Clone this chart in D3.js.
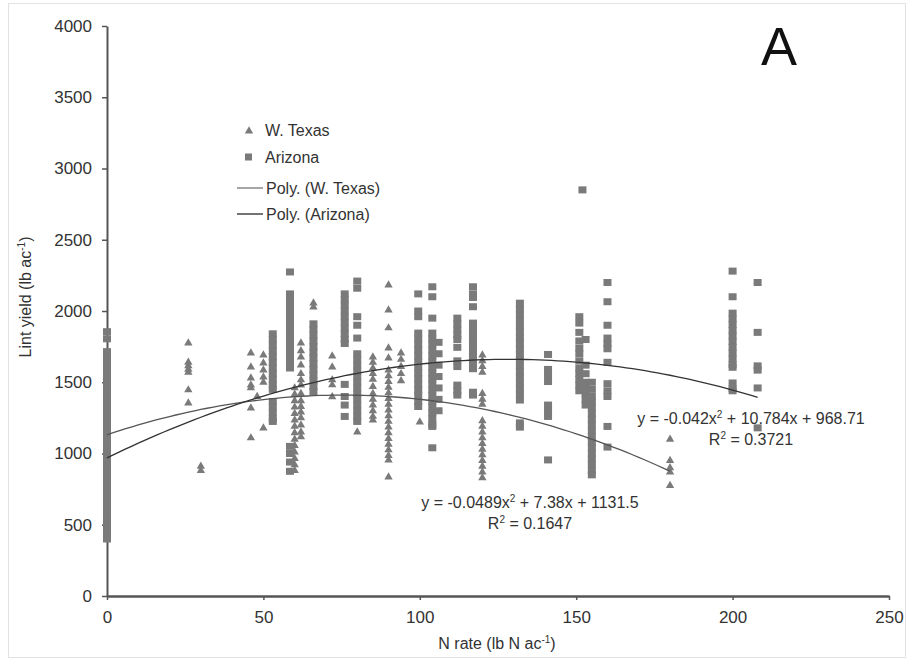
<!DOCTYPE html>
<html>
<head>
<meta charset="utf-8">
<script src="https://cdn.jsdelivr.net/npm/d3@7"></script>
<style>
body { margin: 0; background: #fff; }
svg text { font-family: "Liberation Sans", Arial, sans-serif; fill: #333; }
</style>
</head>
<body>
<svg id="chart" width="908" height="660"></svg>
<script>
// W. Texas observations (triangles): [N rate, [lint yields]]
var texas = [
	[26, [1775, 1640, 1615, 1590, 1570, 1446, 1354]],
	[30, [910, 880]],
	[46, [1705, 1607, 1530, 1480, 1460, 1319, 1109]],
	[48, [1400]],
	[50, [1691, 1635, 1586, 1537, 1500, 1179]],
	[60, [1460, 1415, 1370, 1325, 1280, 1235, 1190, 1145, 1100, 1055, 1010, 965, 920, 880]],
	[62, [1775, 1720, 1677, 1620, 1560, 1516, 1480, 1420, 1370, 1330, 1290, 1250, 1200, 1150, 1116]],
	[66, [2056, 2028]],
	[72, [1684, 1607, 1516, 1481, 1397]],
	[80, [1151]],
	[85, [1677, 1640, 1600, 1560, 1520, 1470, 1420, 1380, 1340, 1300, 1260, 1235]],
	[90, [2182, 2007, 1881, 1740, 1670, 1586, 1545, 1505, 1465, 1425, 1385, 1345, 1305, 1265, 1225, 1185, 1145, 1105, 1065, 1025, 985, 954, 835]],
	[94, [1705, 1660, 1610, 1560, 1510]],
	[100, [1221]],
	[120, [1690, 1650, 1610, 1570, 1420, 1380, 1345, 1230, 1190, 1150, 1110, 1070, 1030, 990, 950, 910, 870, 830]],
	[180, [1100, 950, 900, 870, 775]]
];

// Arizona observations (squares): [N rate, [lint yields]]
var arizona = [
	[0, [1855, 1805, 1715, 1675, 1635, 1595, 1555, 1515, 1475, 1435, 1395, 1355, 1315, 1275, 1235, 1195, 1155, 1115, 1075, 1035, 995, 955, 915, 875, 835, 795, 755, 715, 675, 635, 595, 555, 515, 475, 435, 400]],
	[53, [1840, 1800, 1760, 1720, 1680, 1640, 1600, 1560, 1520, 1480, 1450, 1365, 1325, 1285, 1245, 1225]],
	[58.5, [2274, 2120, 2080, 2040, 2000, 1960, 1920, 1880, 1840, 1800, 1760, 1720, 1680, 1640, 1600, 1050, 1000, 940, 875]],
	[66, [1910, 1870, 1830, 1790, 1750, 1710, 1670, 1630, 1590, 1550, 1510, 1470, 1435]],
	[76, [2120, 2080, 2040, 2000, 1960, 1920, 1880, 1840, 1800, 1772, 1485, 1400, 1340, 1260]],
	[80, [2210, 2160, 1960, 1900, 1810, 1700, 1660, 1620, 1580, 1540, 1500, 1460, 1420, 1380, 1340, 1300, 1260, 1225]],
	[99.5, [2120, 2000, 1960, 1845, 1805, 1765, 1725, 1685, 1645, 1605, 1565, 1525, 1485, 1445, 1405, 1365, 1330]],
	[104, [2170, 2100, 1950, 1845, 1805, 1765, 1725, 1685, 1645, 1605, 1565, 1525, 1485, 1445, 1405, 1365, 1325, 1285, 1245, 1205, 1190, 1040]],
	[106, [1780, 1700, 1620, 1540, 1460, 1380, 1300]],
	[112, [1950, 1910, 1870, 1830, 1800, 1745, 1650, 1610, 1480, 1440, 1410]],
	[117, [2170, 2120, 2095, 2030, 1915, 1875, 1835, 1795, 1755, 1715, 1675, 1635, 1595, 1430, 1410]],
	[132, [2055, 2015, 1975, 1935, 1895, 1855, 1815, 1775, 1735, 1695, 1655, 1615, 1575, 1535, 1495, 1455, 1415, 1375, 1215, 1185]],
	[141, [1695, 1590, 1550, 1505, 1340, 1300, 1260, 955]],
	[151, [1960, 1915, 1850, 1790, 1740, 1700, 1650, 1600, 1560, 1520, 1480, 1440]],
	[152, [2850]],
	[153, [1800, 1620, 1560, 1500, 1460, 1420, 1380, 1340]],
	[155, [1500, 1450, 1400, 1360, 1320, 1280, 1240, 1200, 1160, 1120, 1080, 1040, 1000, 960, 920, 880, 850]],
	[160, [2200, 2065, 1900, 1810, 1770, 1735, 1640, 1490, 1440, 1400, 1190, 1045]],
	[200, [2280, 2100, 1985, 1945, 1905, 1865, 1825, 1785, 1745, 1705, 1665, 1625, 1605, 1495, 1455, 1440]],
	[208, [2200, 1850, 1615, 1585, 1460, 1180]]
];

// fitted polynomials (a*x^2 + b*x + c) and the N range each is drawn over
var texasFit = [-0.0489, 7.38, 1131.5];
var texasFitEnd = 180;
var arizonaFit = [-0.042, 10.784, 968.71];
var arizonaFitEnd = 208;

var xTicks = [0, 50, 100, 150, 200, 250];
var yTicks = [0, 500, 1000, 1500, 2000, 2500, 3000, 3500, 4000];
var legendLabels = ["W. Texas", "Arizona", "Poly. (W. Texas)", "Poly. (Arizona)"];

var svg = d3.select("#chart");

// light frame round the whole chart
svg.append("rect")
	.attr("x", 8.5).attr("y", 3.5)
	.attr("width", 897).attr("height", 654)
	.attr("fill", "none")
	.attr("stroke", "#e2e2e2");

var x = d3.scaleLinear().domain([0, 250]).range([107, 889]);
var y = d3.scaleLinear().domain([0, 4000]).range([596, 26]);

// axes
var yAxis = svg.append("g")
	.attr("transform", "translate(107,0)")
	.call(d3.axisLeft(y).tickValues(yTicks).tickFormat(d3.format("d"))
		.tickSize(5).tickSizeOuter(0).tickPadding(10));
var xAxis = svg.append("g")
	.attr("transform", "translate(0,596)")
	.call(d3.axisBottom(x).tickValues(xTicks).tickFormat(d3.format("d"))
		.tickSize(4).tickSizeOuter(0).tickPadding(11));

yAxis.select(".domain").attr("stroke", "#555").attr("stroke-width", 2);
xAxis.select(".domain").attr("stroke", "#555").attr("stroke-width", 2.5);
svg.selectAll(".tick line").attr("stroke", "#555").attr("stroke-width", 1.5);
svg.selectAll(".tick text").attr("font-size", 17).attr("fill", "#3a3a3a")
	.style("font-family", "'Liberation Sans', Arial, sans-serif");

// axis titles
var yTitle = svg.append("text")
	.attr("transform", "translate(31,297) rotate(-90)")
	.attr("text-anchor", "middle")
	.attr("font-size", 16);
yTitle.append("tspan").text("Lint yield (lb ac");
yTitle.append("tspan").attr("font-size", 10).attr("dy", -6).text("-1");
yTitle.append("tspan").attr("dy", 6).text(")");

var xTitle = svg.append("text")
	.attr("x", 497).attr("y", 649)
	.attr("text-anchor", "middle")
	.attr("font-size", 16);
xTitle.append("tspan").text("N rate (lb N ac");
xTitle.append("tspan").attr("font-size", 10).attr("dy", -6).text("-1");
xTitle.append("tspan").attr("dy", 6).text(")");

// panel letter
svg.append("text")
	.attr("x", 779).attr("y", 65)
	.attr("text-anchor", "middle")
	.attr("font-size", 54)
	.style("fill", "#111")
	.text("A");

var markColor = "#7a7a7a";
var tri = d3.symbol().type(d3.symbolTriangle).size(30);

// flatten the columns into points
function flatten(cols) {
	var pts = [];
	cols.forEach(function(c) {
		c[1].forEach(function(v) { pts.push({n: c[0], v: v}); });
	});
	return pts;
}

svg.append("g").selectAll("path")
	.data(flatten(texas))
	.enter().append("path")
	.attr("d", tri)
	.attr("transform", function(d) { return "translate(" + x(d.n) + "," + y(d.v) + ")"; })
	.attr("fill", markColor);

svg.append("g").selectAll("rect")
	.data(flatten(arizona))
	.enter().append("rect")
	.attr("x", function(d) { return x(d.n) - 4; })
	.attr("y", function(d) { return y(d.v) - 3.5; })
	.attr("width", 8).attr("height", 7)
	.attr("fill", markColor);

// trend curves
function poly(c) { return function(n) { return c[0] * n * n + c[1] * n + c[2]; }; }
var line = d3.line().x(function(d) { return x(d[0]); }).y(function(d) { return y(d[1]); });

function drawFit(c, end, col) {
	var f = poly(c);
	var pts = d3.range(0, end + 0.001, 2).map(function(n) { return [n, f(n)]; });
	svg.append("path")
		.attr("d", line(pts))
		.attr("fill", "none")
		.attr("stroke", col)
		.attr("stroke-width", 1.3);
}
drawFit(texasFit, texasFitEnd, "#555");
drawFit(arizonaFit, arizonaFitEnd, "#333");

// equation labels
function eqLabel(cx, by, c, r2) {
	var t = svg.append("text").attr("x", cx).attr("y", by)
		.attr("text-anchor", "middle").attr("font-size", 16);
	t.append("tspan").text("y = " + c[0] + "x");
	t.append("tspan").attr("font-size", 10).attr("dy", -6).text("2");
	t.append("tspan").attr("dy", 6).text(" + " + c[1] + "x + " + c[2]);
	var r = svg.append("text").attr("x", cx).attr("y", by + 21)
		.attr("text-anchor", "middle").attr("font-size", 16);
	r.append("tspan").text("R");
	r.append("tspan").attr("font-size", 10).attr("dy", -6).text("2");
	r.append("tspan").attr("dy", 6).text(" = " + r2);
}
eqLabel(530, 508, texasFit, "0.1647");
eqLabel(751, 424, arizonaFit, "0.3721");

// legend
var lg = svg.append("g");
lg.append("path").attr("d", tri).attr("transform", "translate(249,131)").attr("fill", markColor);
lg.append("rect").attr("x", 245).attr("y", 153.5).attr("width", 7).attr("height", 7).attr("fill", markColor);
lg.append("line").attr("x1", 237).attr("x2", 263).attr("y1", 188).attr("y2", 188)
	.attr("stroke", "#888").attr("stroke-width", 1.5);
lg.append("line").attr("x1", 237).attr("x2", 263).attr("y1", 214).attr("y2", 214)
	.attr("stroke", "#444").attr("stroke-width", 1.5);
var legendY = [130, 157, 188, 214];
legendLabels.forEach(function(l, i) {
	lg.append("text")
		.attr("x", i < 2 ? 265 : 266)
		.attr("y", legendY[i])
		.attr("dy", "0.35em")
		.attr("font-size", 16)
		.text(l);
});
</script>
</body>
</html>
